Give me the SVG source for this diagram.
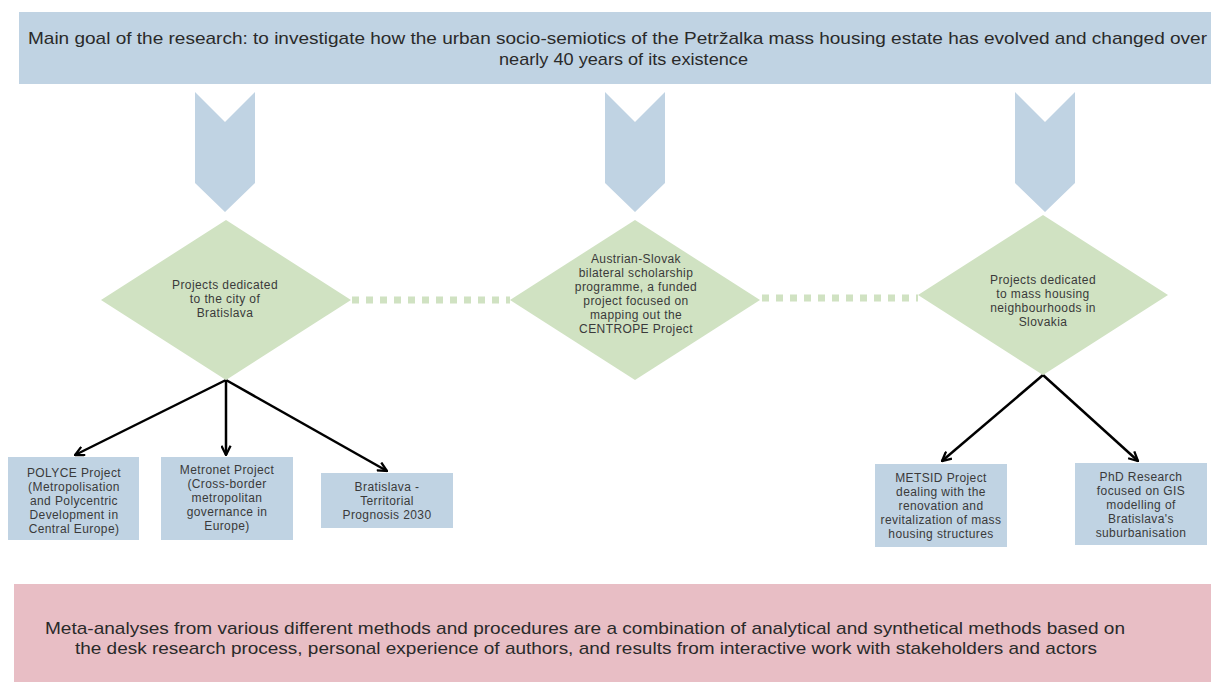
<svg xmlns="http://www.w3.org/2000/svg" width="1211" height="682" viewBox="0 0 1211 682">
<style>
.banner{fill:#c0d3e3}
.chev{fill:#c0d3e3}
.dia{fill:#d0e2c2}
.box{fill:#c0d3e3}
.pink{fill:#e8bec5}
.big{font-family:"Liberation Sans",Arial,sans-serif;font-size:17px;fill:#2a2a2a}
.t{font-family:"Liberation Sans",Arial,sans-serif;font-size:12px;letter-spacing:0.4px;fill:#3a3a3a;text-anchor:middle}
.dot{stroke:#d0e2c2;stroke-width:7;stroke-dasharray:7 7;fill:none}
.arr{stroke:#000;stroke-width:2.5;fill:none}
</style>
<defs>
<marker id="ah" viewBox="0 0 12 12" refX="11" refY="6" markerWidth="11" markerHeight="11" markerUnits="userSpaceOnUse" orient="auto">
<path d="M1,1 L11,6 L1,11" fill="none" stroke="#000" stroke-width="2.5"/>
</marker>
</defs>
<rect width="1211" height="682" fill="#fff"/>
<g id="goal">
<rect class="banner" x="19" y="12" width="1192" height="72"/>
<text class="big" x="28" y="44" textLength="1179" lengthAdjust="spacingAndGlyphs">Main goal of the research: to investigate how the urban socio-semiotics of the Petržalka mass housing estate has evolved and changed over</text>
<text class="big" x="499" y="65" textLength="249" lengthAdjust="spacingAndGlyphs">nearly 40 years of its existence</text>
</g>
<g id="chevrons">
<path class="chev" d="M195,92 L225,122 L255,92 L255,183 L225,212 L195,183 Z"/>
<path class="chev" d="M605,92 L635,122 L665,92 L665,183 L635,212 L605,183 Z"/>
<path class="chev" d="M1015,92 L1045,122 L1075,92 L1075,183 L1045,212 L1015,183 Z"/>
</g>
<g id="connectors">
<line class="dot" x1="352" y1="300" x2="510" y2="300"/>
<line class="dot" x1="762" y1="298" x2="918" y2="298"/>
<line class="arr" x1="226" y1="380" x2="75" y2="455" marker-end="url(#ah)"/>
<line class="arr" x1="226" y1="380" x2="226" y2="455" marker-end="url(#ah)"/>
<line class="arr" x1="226" y1="380" x2="387" y2="471" marker-end="url(#ah)"/>
<line class="arr" x1="1043" y1="375" x2="942" y2="461" marker-end="url(#ah)"/>
<line class="arr" x1="1043" y1="375" x2="1138" y2="461" marker-end="url(#ah)"/>
</g>
<g id="d-bratislava">
<path class="dia" d="M226,220 L351,300 L226,380 L101,300 Z"/>
<text class="t"><tspan x="225" y="289">Projects dedicated</tspan><tspan x="225" y="303">to the city of</tspan><tspan x="225" y="317">Bratislava</tspan></text>
</g>
<g id="d-centrope">
<path class="dia" d="M635,220 L760,300 L635,380 L510,300 Z"/>
<text class="t"><tspan x="636" y="263">Austrian-Slovak</tspan><tspan x="636" y="277">bilateral scholarship</tspan><tspan x="636" y="291">programme, a funded</tspan><tspan x="636" y="305">project focused on</tspan><tspan x="636" y="319">mapping out the</tspan><tspan x="636" y="333">CENTROPE Project</tspan></text>
</g>
<g id="d-mass">
<path class="dia" d="M1043,215 L1168,295 L1043,375 L918,295 Z"/>
<text class="t"><tspan x="1043" y="284">Projects dedicated</tspan><tspan x="1043" y="298">to mass housing</tspan><tspan x="1043" y="312">neighbourhoods in</tspan><tspan x="1043" y="326">Slovakia</tspan></text>
</g>
<g id="b-polyce">
<rect class="box" x="8" y="457" width="131" height="83"/>
<text class="t"><tspan x="74" y="477">POLYCE Project</tspan><tspan x="74" y="491">(Metropolisation</tspan><tspan x="74" y="505">and Polycentric</tspan><tspan x="74" y="519">Development in</tspan><tspan x="74" y="533">Central Europe)</tspan></text>
</g>
<g id="b-metronet">
<rect class="box" x="161" y="457" width="132" height="83"/>
<text class="t"><tspan x="227" y="474">Metronet Project</tspan><tspan x="227" y="488">(Cross-border</tspan><tspan x="227" y="502">metropolitan</tspan><tspan x="227" y="516">governance in</tspan><tspan x="227" y="530">Europe)</tspan></text>
</g>
<g id="b-prognosis">
<rect class="box" x="321" y="473" width="132" height="55"/>
<text class="t"><tspan x="387" y="491">Bratislava -</tspan><tspan x="387" y="505">Territorial</tspan><tspan x="387" y="519">Prognosis 2030</tspan></text>
</g>
<g id="b-metsid">
<rect class="box" x="875" y="464" width="132" height="83"/>
<text class="t"><tspan x="941" y="482">METSID Project</tspan><tspan x="941" y="496">dealing with the</tspan><tspan x="941" y="510">renovation and</tspan><tspan x="941" y="524">revitalization of mass</tspan><tspan x="941" y="538">housing structures</tspan></text>
</g>
<g id="b-phd">
<rect class="box" x="1075" y="463" width="132" height="82"/>
<text class="t"><tspan x="1141" y="481">PhD Research</tspan><tspan x="1141" y="495">focused on GIS</tspan><tspan x="1141" y="509">modelling of</tspan><tspan x="1141" y="523">Bratislava's</tspan><tspan x="1141" y="537">suburbanisation</tspan></text>
</g>
<g id="meta">
<rect class="pink" x="14" y="584" width="1197" height="98"/>
<text class="big" x="45" y="634" textLength="1080" lengthAdjust="spacingAndGlyphs">Meta-analyses from various different methods and procedures are a combination of analytical and synthetical methods based on</text>
<text class="big" x="75" y="654" textLength="1022" lengthAdjust="spacingAndGlyphs">the desk research process, personal experience of authors, and results from interactive work with stakeholders and actors</text>
</g>
</svg>
